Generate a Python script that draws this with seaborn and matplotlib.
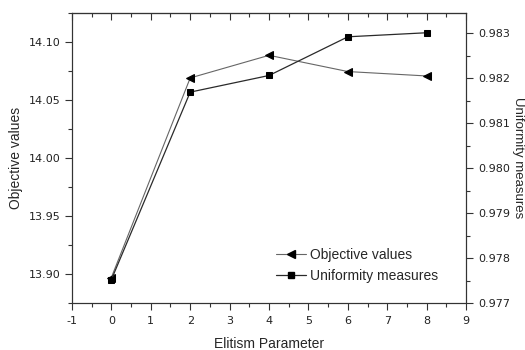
import matplotlib
matplotlib.use("Agg")
import matplotlib.pyplot as plt
import seaborn as sns
import pandas as pd
from matplotlib.ticker import MultipleLocator, FormatStrFormatter
from matplotlib.lines import Line2D

elitism = [0, 2, 4, 6, 8]
objective_values = [13.897, 14.069, 14.0885, 14.0745, 14.0707]
uniformity = [0.97752, 0.98169, 0.98206, 0.98292, 0.98301]

sns.set_theme(style="ticks")
plt.rcParams['font.family'] = ['DejaVu Sans']
plt.rcParams['axes.unicode_minus'] = False

LABEL_FONT = ['Liberation Sans', 'DejaVu Sans']

fig = plt.figure(figsize=(5.25, 3.5), dpi=100)
ax = fig.add_axes([0.137, 0.134, 0.751, 0.829])
ax2 = ax.twinx()

df1 = pd.DataFrame({"x": elitism, "y": objective_values})
df2 = pd.DataFrame({"x": elitism, "y": uniformity})

c1 = "#666666"
c2 = "#2a2a2a"
sns.lineplot(data=df1, x="x", y="y", ax=ax, color=c1, linewidth=0.8,
             marker="<", markersize=6, markerfacecolor="black", markeredgecolor="black")
sns.lineplot(data=df2, x="x", y="y", ax=ax2, color=c2, linewidth=0.9,
             marker="s", markersize=4.3, markerfacecolor="black", markeredgecolor="black")

ax.set_xlim(-1, 9)
ax.set_ylim(13.875, 14.125)
ax2.set_ylim(0.977, 0.98345)
ax.xaxis.set_major_locator(MultipleLocator(1))
ax.xaxis.set_minor_locator(MultipleLocator(0.5))
ax.yaxis.set_major_locator(MultipleLocator(0.05))
ax.yaxis.set_minor_locator(MultipleLocator(0.025))
ax2.yaxis.set_major_locator(MultipleLocator(0.001))
ax2.yaxis.set_minor_locator(MultipleLocator(0.0005))
ax.yaxis.set_major_formatter(FormatStrFormatter('%.2f'))
ax2.yaxis.set_major_formatter(FormatStrFormatter('%.3f'))

for a in (ax, ax2):
    for s in a.spines.values():
        s.set_linewidth(0.8)
        s.set_color("#333333")
        s.set_visible(True)

tc = "#333333"
ax.tick_params(axis='x', which='both', direction='out', top=False, labelsize=8, colors=tc, labelcolor="#222222", pad=4)
ax.tick_params(axis='x', which='major', length=5, width=0.8)
ax.tick_params(axis='x', which='minor', length=3, width=0.8)
ax.tick_params(axis='y', which='major', direction='out', length=5, width=0.8, labelsize=8, colors=tc, labelcolor="#222222")
ax.tick_params(axis='y', which='minor', direction='out', length=3, width=0.8, colors=tc)
ax2.tick_params(axis='y', which='major', direction='out', length=5, width=0.8, labelsize=8, colors=tc, labelcolor="#222222")
ax2.tick_params(axis='y', which='minor', direction='out', length=3, width=0.8, colors=tc)

# inward ticks on the top edge
top = ax.secondary_xaxis('top')
top.xaxis.set_major_locator(MultipleLocator(1))
top.xaxis.set_minor_locator(MultipleLocator(0.5))
top.tick_params(axis='x', which='major', direction='in', length=5, width=0.8, colors=tc, labeltop=False)
top.tick_params(axis='x', which='minor', direction='in', length=3, width=0.8, colors=tc)
top.spines['top'].set_linewidth(0.8)
top.spines['top'].set_color(tc)

ax.set_xlabel("Elitism Parameter", fontsize=10, labelpad=8, family=LABEL_FONT)
ax.set_ylabel("Objective values", fontsize=10, labelpad=4, family=LABEL_FONT)
ax2.set_ylabel("Uniformity measures", fontsize=9.5, rotation=270, labelpad=10, family=LABEL_FONT)

handles = [
    Line2D([], [], color=c1, linewidth=0.8, marker="<", markersize=6,
           markerfacecolor="black", markeredgecolor="black"),
    Line2D([], [], color=c2, linewidth=0.9, marker="s", markersize=4.3,
           markerfacecolor="black", markeredgecolor="black"),
]
ax.legend(handles, ["Objective values", "Uniformity measures"], loc="lower right",
          bbox_to_anchor=(0.96, 0.025), frameon=False,
          prop={'family': LABEL_FONT, 'size': 10}, handlelength=2.2,
          handletextpad=0.25, labelspacing=0.55)

fig.savefig("out.png", dpi=100)
